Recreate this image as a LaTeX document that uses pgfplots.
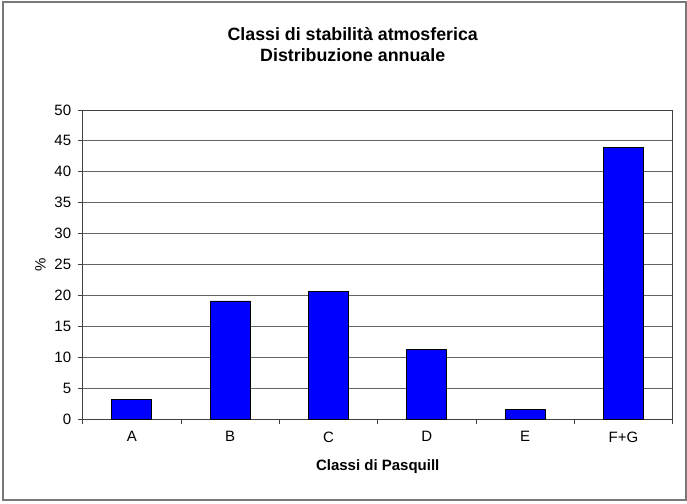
\documentclass[border=0pt]{standalone}
\usepackage{pgfplots}
\pgfplotsset{compat=1.18}
\usepackage{fontspec}
\setmainfont{Liberation Sans}
\definecolor{barblue}{RGB}{0,0,255}
\definecolor{gridgray}{RGB}{100,100,100}
\definecolor{framegray}{RGB}{120,120,120}
\begin{document}
\begin{tikzpicture}[x=1pt,y=1pt]
\useasboundingbox (-82.7,-84) rectangle (604.3,419);
\draw[framegray,line width=1.3pt] (-79.7,-81) rectangle (603.3,417);
\begin{axis}[
  at={(0,0)}, anchor=south west,
  scale only axis,
  width=590pt, height=309pt,
  xmin=-0.5, xmax=5.5,
  ymin=0, ymax=50,
  ytick={0,5,...,50},
  xtick={-0.5,0.5,...,5.5},
  xticklabels={A,B,C,D,E,F+G},
  x tick label as interval,
  xtick pos=bottom, ytick pos=left,
  tick align=outside,
  major tick length=5pt,
  ymajorgrids,
  grid style={gridgray,line width=0.8pt},
  axis line style={black!75,line width=0.9pt},
  tick style={black!75,line width=0.9pt},
  every tick label/.style={font=\fontsize{15}{17}\selectfont},
  /pgf/number format/assume math mode=true,
  xticklabel style={yshift=-4pt},
  yticklabel style={xshift=-3pt},
  xlabel={Classi di Pasquill},
  xlabel style={font=\bfseries\fontsize{15}{17}\selectfont, yshift=-11pt},
  ylabel={\%},
  ylabel style={font=\fontsize{15}{17}\selectfont, yshift=2pt},
  clip=false,
]
\addplot[ybar, bar width=40pt, fill=barblue, draw=black, line width=0.9pt]
  coordinates {(0,3.1) (1,19.1) (2,20.7) (3,11.3) (4,1.6) (5,44.0)};
\end{axis}
\node[font=\bfseries\fontsize{17.8}{21}\selectfont, align=center] at (270,374) {Classi di stabilità atmosferica\\Distribuzione annuale};
\end{tikzpicture}
\end{document}
